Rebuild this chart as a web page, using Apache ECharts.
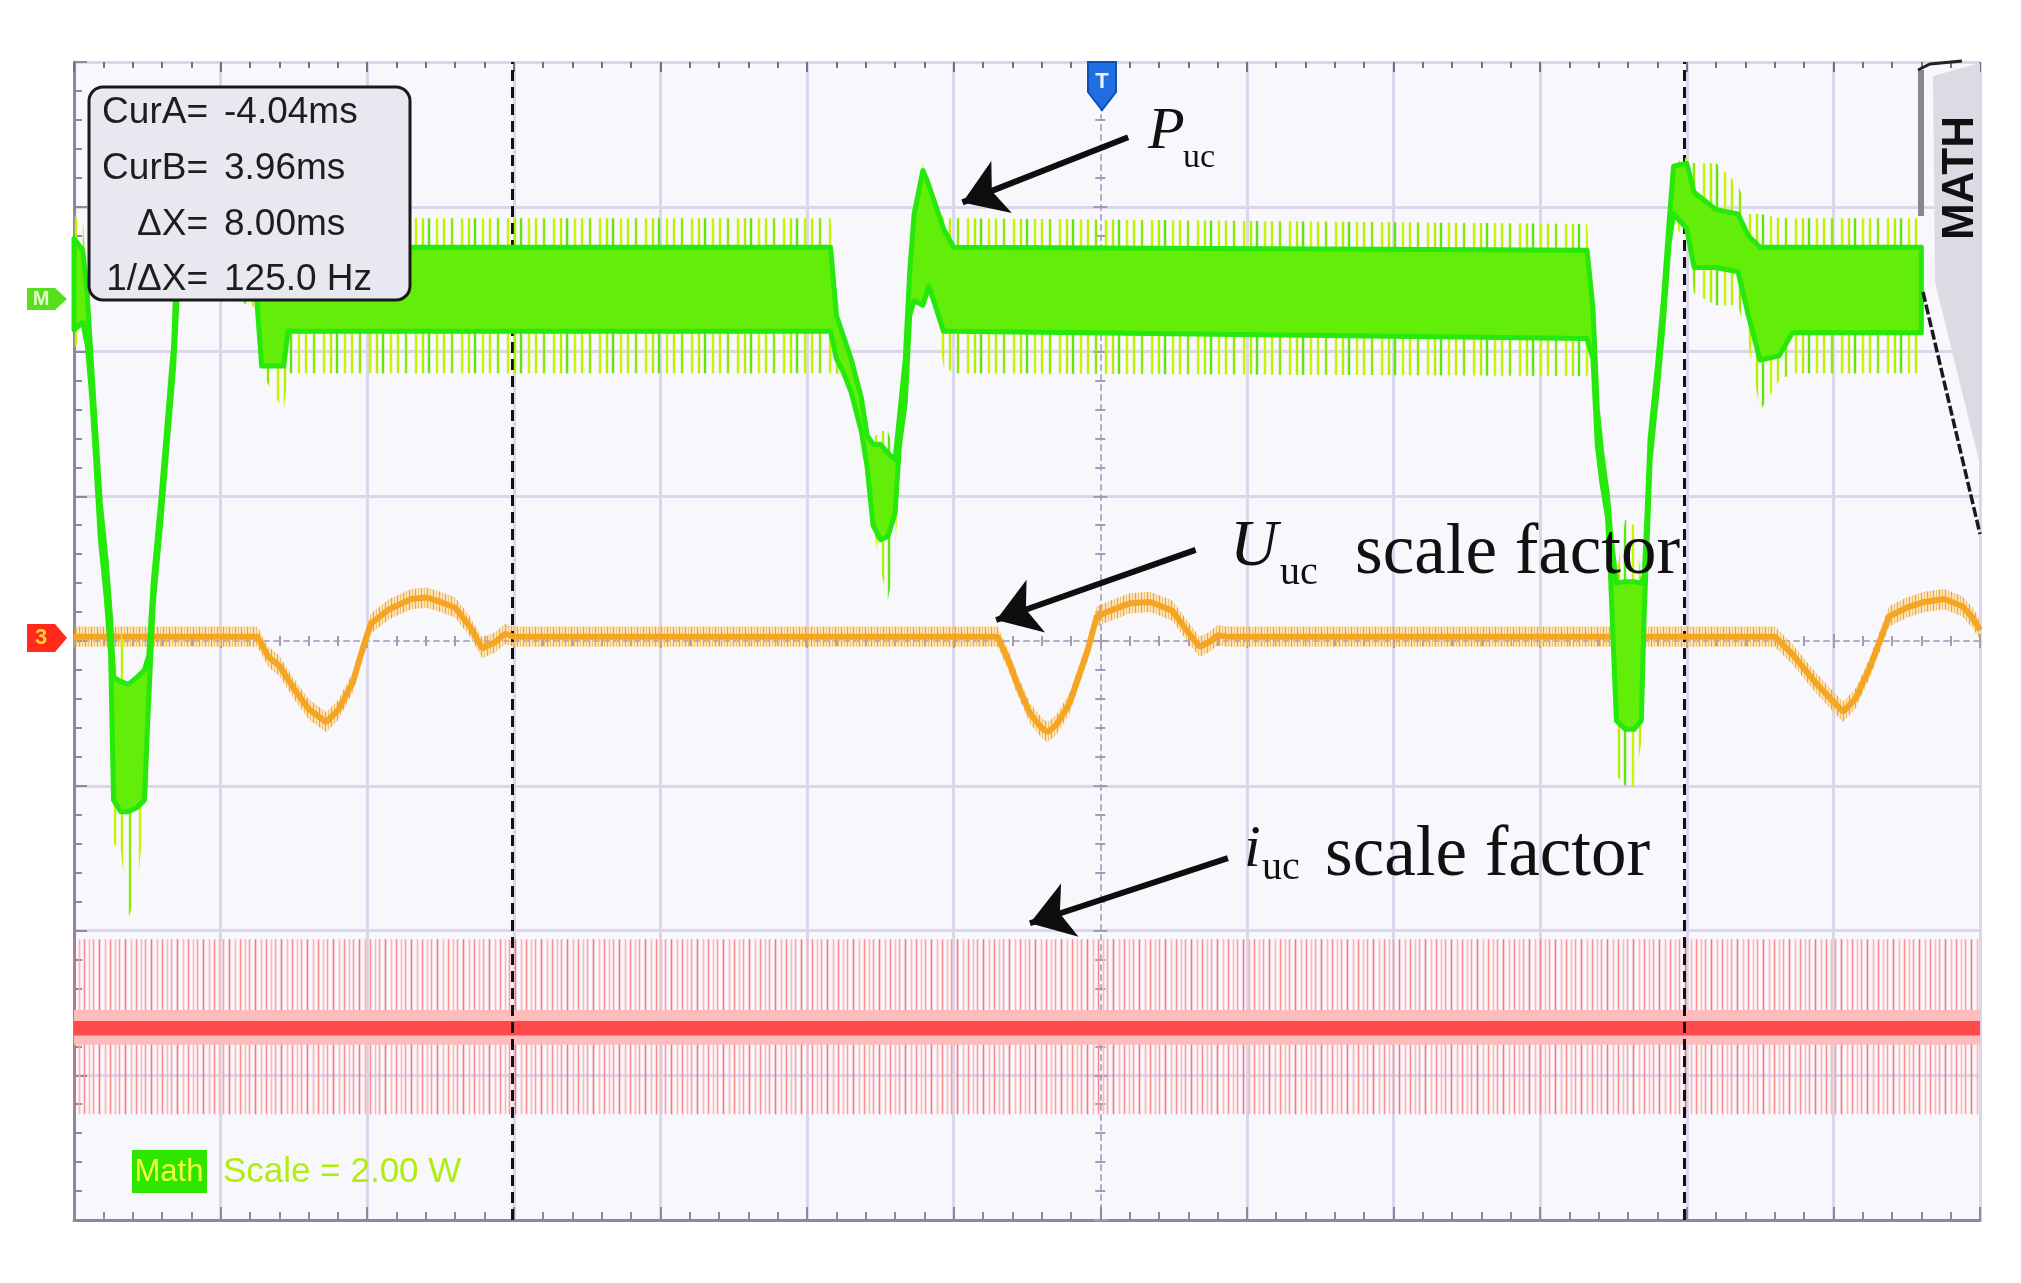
<!DOCTYPE html>
<html>
<head>
<meta charset="utf-8">
<title>Puc / Uuc / iuc waveforms</title>
<script src="https://cdn.jsdelivr.net/npm/echarts@6/dist/echarts.min.js"></script>
<style>
html, body { margin: 0; padding: 0; background: #ffffff; }
#main { width: 2021px; height: 1283px; }
</style>
</head>
<body>
<div id="main"></div>
<script>
// time axis in ms (1 ms/div), vertical axis in screen divisions
var xRange = [-7, 6];
var yRange = [-4, 4];
var cursorTime = [-4.01, 3.98];
var cursorLabel = ['CurA=', 'CurB=', '\u0394X=', '1/\u0394X='];
var cursorValue = ['-4.04ms', '3.96ms', '8.00ms', '125.0 Hz'];

// P_uc (Math trace): time, spike bottom, band bottom, band top, spike top
var pTime = [-7.00, -6.94, -6.91, -6.88, -6.855, -6.82, -6.78, -6.75, -6.73, -6.68,
  -6.63, -6.57, -6.52, -6.49, -6.46, -6.41, -6.365, -6.32, -6.29, -6.24,
  -6.00, -5.76, -5.72, -5.57, -5.54, -1.84, -1.80, -1.75, -1.70, -1.63,
  -1.59, -1.55, -1.50, -1.45, -1.40, -1.37, -1.33, -1.30, -1.27, -1.21,
  -1.17, -1.12, -1.07, -1.00, 3.32, 3.36, 3.39, 3.42, 3.46, 3.48,
  3.52, 3.58, 3.64, 3.69, 3.71, 3.73, 3.75, 3.80, 3.84, 3.88,
  3.91, 4.00, 4.05, 4.20, 4.35, 4.42, 4.50, 4.63, 4.72, 5.60];
var pSpikeLow = [2.02, 2.10, 2.00, 1.65, 1.30, 0.70, 0.30, -0.10, -1.40, -1.45,
  -1.92, -1.72, -1.20, -0.95, 0.25, 0.80, 1.35, 1.90, 2.45, 2.55,
  2.40, 2.30, 1.85, 1.59, 1.85, 1.85, 1.85, 1.82, 1.70, 1.45,
  1.05, 0.80, 0.50, 0.28, 0.55, 1.30, 1.60, 2.20, 2.30, 2.30,
  2.40, 2.25, 1.90, 1.85, 1.83, 1.90, 1.35, 1.10, 0.85, 0.40,
  -0.93, -1.00, -1.01, -0.70, 0.20, 0.70, 1.25, 1.75, 2.20, 2.70,
  2.85, 2.80, 2.40, 2.32, 2.32, 2.05, 1.59, 1.80, 1.85, 1.85];
var pLow = [2.15, 2.20, 2.05, 1.70, 1.30, 0.70, 0.30, -0.10, -1.10, -1.18,
  -1.18, -1.15, -1.10, -0.40, 0.25, 0.80, 1.35, 1.90, 2.50, 2.70,
  2.55, 2.45, 1.90, 1.90, 2.14, 2.14, 1.95, 1.85, 1.72, 1.45,
  1.20, 0.80, 0.70, 0.72, 0.88, 1.35, 1.65, 2.25, 2.35, 2.32,
  2.45, 2.30, 2.14, 2.14, 2.09, 1.95, 1.35, 1.10, 0.85, 0.45,
  -0.55, -0.61, -0.61, -0.55, 0.20, 0.70, 1.25, 1.75, 2.20, 2.75,
  2.95, 2.85, 2.58, 2.58, 2.55, 2.25, 1.94, 1.97, 2.13, 2.13];
var pHigh = [2.78, 2.70, 2.40, 1.90, 1.50, 0.95, 0.55, 0.15, -0.25, -0.28,
  -0.30, -0.25, -0.20, -0.10, 0.40, 0.95, 1.50, 2.05, 2.90, 3.25,
  3.05, 3.00, 2.72, 2.72, 2.72, 2.72, 2.25, 2.10, 1.95, 1.68,
  1.42, 1.36, 1.36, 1.30, 1.25, 1.55, 1.95, 2.55, 2.95, 3.25,
  3.15, 3.00, 2.85, 2.72, 2.70, 2.30, 1.60, 1.30, 1.00, 0.75,
  0.40, 0.41, 0.41, 0.40, 0.45, 0.90, 1.40, 1.90, 2.35, 2.90,
  3.28, 3.30, 3.10, 2.98, 2.95, 2.80, 2.72, 2.72, 2.72, 2.72];
var pSpikeHigh = [2.94, 2.90, 2.45, 1.95, 1.50, 0.95, 0.55, 0.15, -0.25, 0.10,
  -0.30, -0.25, -0.20, -0.10, 0.40, 0.95, 1.50, 2.05, 3.00, 3.35,
  3.25, 3.15, 2.92, 2.92, 2.92, 2.92, 2.40, 2.12, 1.95, 1.68,
  1.42, 1.40, 1.45, 1.45, 1.30, 1.55, 2.00, 2.60, 3.00, 3.30,
  3.20, 3.02, 2.92, 2.92, 2.88, 2.35, 1.60, 1.30, 1.00, 0.75,
  0.45, 0.84, 0.80, 0.45, 0.45, 0.90, 1.40, 1.90, 2.35, 2.90,
  3.30, 3.34, 3.30, 3.30, 3.15, 2.95, 2.95, 2.92, 2.92, 2.92];

// U_uc scale factor
var uTime = [-7.00, -5.75, -5.675, -5.60, -5.50, -5.40, -5.28, -5.20, -5.10, -5.03,
  -4.975, -4.85, -4.70, -4.595, -4.50, -4.40, -4.30, -4.215, -4.13, -4.06,
  -4.00, -0.70, -0.62, -0.57, -0.48, -0.40, -0.36, -0.30, -0.21, -0.085,
  -0.024, 0.07, 0.20, 0.34, 0.49, 0.585, 0.676, 0.74, 0.80, 0.86,
  4.60, 4.72, 4.88, 5.066, 5.15, 5.25, 5.38, 5.50, 5.62, 5.756,
  5.88, 5.95, 6.00];
var uValue = [0.03, 0.03, -0.11, -0.17, -0.33, -0.47, -0.56, -0.48, -0.29, -0.05,
  0.12, 0.22, 0.29, 0.30, 0.27, 0.23, 0.10, -0.05, -0.01, 0.05,
  0.03, 0.03, -0.15, -0.29, -0.50, -0.60, -0.63, -0.58, -0.43, -0.06,
  0.17, 0.21, 0.26, 0.27, 0.21, 0.08, -0.04, -0.01, 0.04, 0.03,
  0.03, -0.09, -0.29, -0.49, -0.40, -0.18, 0.17, 0.23, 0.27, 0.29,
  0.24, 0.16, 0.075];

// i_uc scale factor
var iTime = [-7, 6];
var iSpikeLow = [-3.27, -3.27];
var iLow = [-2.79, -2.79];
var iCoreLow = [-2.725, -2.725];
var iCoreHigh = [-2.625, -2.625];
var iHigh = [-2.55, -2.55];
var iSpikeHigh = [-2.06, -2.06];

// annotation arrows (tail -> head), in axis units
var arrowFrom = [[0.19, 3.48], [0.65, 0.63], [0.87, -1.50]];
var arrowTo = [[-0.94, 3.03], [-0.71, 0.145], [-0.48, -1.95]];

var chart = echarts.init(document.getElementById('main'));

// vertical stripe fill, used for the noise spikes
function stripes(w, lines, lw, bg) {
  var c = document.createElement('canvas');
  c.width = w; c.height = 8;
  var g = c.getContext('2d');
  if (bg) { g.fillStyle = bg; g.fillRect(0, 0, w, 8); }
  g.lineWidth = lw;
  lines.forEach(function (l) {
    g.strokeStyle = l[1];
    g.beginPath(); g.moveTo(l[0], 0); g.lineTo(l[0], 8); g.stroke();
  });
  return { type: 'pattern', image: c, repeat: 'repeat' };
}

function envelope(name, time, low, high, style, z) {
  return {
    type: 'custom', name: name, z: z, silent: true,
    xAxisIndex: 0, yAxisIndex: 0,
    data: time.map(function (t, i) { return [t, low[i], high[i]]; }),
    encode: { x: 0, y: [1, 2] },
    renderItem: function (params, api) {
      if (params.dataIndex !== 0) return null;
      var pts = [];
      for (var i = 0; i < time.length; i++) pts.push(api.coord([time[i], high[i]]));
      for (var j = time.length - 1; j >= 0; j--) pts.push(api.coord([time[j], low[j]]));
      return { type: 'polygon', shape: { points: pts }, style: style };
    }
  };
}

var lavender = '#dad6ec';
function gridColors(range) {
  var a = [];
  for (var v = range[0]; v <= range[1]; v++) a.push(v === 0 ? 'rgba(0,0,0,0)' : lavender);
  return a;
}

var edge = '#8f889c';
var mid = '#a29cb4';

function centerX(inside) {
  return {
    type: 'value', min: xRange[0], max: xRange[1], interval: 1, position: 'bottom',
    axisLine: { show: inside, onZero: true, onZeroAxisIndex: 0, lineStyle: { color: '#b3adc6', width: 2, type: [5, 5] } },
    axisTick: { show: true, inside: inside, length: 7, lineStyle: { color: mid, width: 2 } },
    minorTick: { show: true, splitNumber: 5, length: 5, lineStyle: { color: mid, width: 2 } },
    axisLabel: { show: false }, splitLine: { show: false }
  };
}
function centerY(inside) {
  return {
    type: 'value', min: yRange[0], max: yRange[1], interval: 1, position: 'left',
    axisLine: { show: inside, onZero: true, onZeroAxisIndex: 0, lineStyle: { color: '#b3adc6', width: 2, type: [5, 5] } },
    axisTick: { show: true, inside: inside, length: 7, lineStyle: { color: mid, width: 2 } },
    minorTick: { show: true, splitNumber: 5, length: 5, lineStyle: { color: mid, width: 2 } },
    axisLabel: { show: false }, splitLine: { show: false }
  };
}

var uBand = 0.07;
var uLow = uValue.map(function (v) { return v - uBand; });
var uHigh = uValue.map(function (v) { return v + uBand; });

var serif = '"Liberation Serif", "Times New Roman", serif';
var sans = '"Liberation Sans", Arial, sans-serif';

var graphics = [
  // cursor readout
  { type: 'rect', z: 30, shape: { x: 89, y: 87, width: 321, height: 213, r: 14 },
    style: { fill: '#e9e8f1', stroke: '#1a1a1a', lineWidth: 3 } },
  // math label
  { type: 'rect', z: 30, shape: { x: 132, y: 1150, width: 75, height: 43 }, style: { fill: '#2fe600' } },
  { type: 'text', z: 31, style: { text: 'Math', x: 169, y: 1172, align: 'center', verticalAlign: 'middle',
    font: '31px ' + sans, fill: '#f0ff3c' } },
  { type: 'text', z: 31, style: { text: 'Scale = 2.00 W', x: 223, y: 1172, verticalAlign: 'middle',
    font: '35px ' + sans, fill: '#b0ee10' } },
  // channel markers
  { type: 'polygon', z: 30, shape: { points: [[27, 288], [55, 288], [67, 299], [55, 310], [27, 310]] },
    style: { fill: '#55e01b' } },
  { type: 'text', z: 31, style: { text: 'M', x: 41, y: 299, align: 'center', verticalAlign: 'middle',
    font: 'bold 20px ' + sans, fill: '#e4ffcc' } },
  { type: 'polygon', z: 30, shape: { points: [[27, 624], [55, 624], [67, 638], [55, 652], [27, 652]] },
    style: { fill: '#ff2a1a' } },
  { type: 'text', z: 31, style: { text: '3', x: 41, y: 638, align: 'center', verticalAlign: 'middle',
    font: 'bold 22px ' + sans, fill: '#ffd23c' } },
  // trigger marker
  { type: 'polygon', z: 30, shape: { points: [[1088, 62], [1116, 62], [1116, 92], [1102, 110], [1088, 92]] },
    style: { fill: '#1f6fe0', stroke: '#0d4fb5', lineWidth: 2 } },
  { type: 'text', z: 31, style: { text: 'T', x: 1102, y: 82, align: 'center', verticalAlign: 'middle',
    font: 'bold 22px ' + sans, fill: '#e8f2ff' } },
  // MATH tab
  { type: 'polygon', z: 30, shape: { points: [[1933, 76], [1980, 63], [1980, 465], [1935, 282]] },
    style: { fill: '#dcdbe4' } },
  { type: 'rect', z: 30, shape: { x: 1918, y: 70, width: 6, height: 146 }, style: { fill: '#8a8590' } },
  { type: 'polyline', z: 31, shape: { points: [[1918, 70], [1930, 64], [1962, 61]] },
    style: { stroke: '#222', lineWidth: 3, fill: null } },
  { type: 'line', z: 31, shape: { x1: 1923, y1: 292, x2: 1980, y2: 534 },
    style: { stroke: '#1a1a1a', lineWidth: 3.5, lineDash: [10, 3] } },
  { type: 'text', z: 31, x: 1961, y: 178, rotation: Math.PI / 2,
    style: { text: 'MATH', x: 0, y: 0, align: 'center', verticalAlign: 'middle',
      font: 'bold 44px ' + sans, fill: '#111' } },
  // annotation texts
  { type: 'text', z: 31, style: { text: 'P', x: 1148, y: 132, verticalAlign: 'middle', font: 'italic 60px ' + serif, fill: '#111' } },
  { type: 'text', z: 31, style: { text: 'uc', x: 1183, y: 158, verticalAlign: 'middle', font: '34px ' + serif, fill: '#111' } },
  { type: 'text', z: 31, style: { text: 'U', x: 1230, y: 548, verticalAlign: 'middle', font: 'italic 66px ' + serif, fill: '#111' } },
  { type: 'text', z: 31, style: { text: 'uc', x: 1280, y: 573, verticalAlign: 'middle', font: '40px ' + serif, fill: '#111' } },
  { type: 'text', z: 31, style: { text: 'scale factor', x: 1355, y: 554, verticalAlign: 'middle', font: '71px ' + serif, fill: '#111' } },
  { type: 'text', z: 31, style: { text: 'i', x: 1244, y: 850, verticalAlign: 'middle', font: 'italic 60px ' + serif, fill: '#111' } },
  { type: 'text', z: 31, style: { text: 'uc', x: 1262, y: 868, verticalAlign: 'middle', font: '40px ' + serif, fill: '#111' } },
  { type: 'text', z: 31, style: { text: 'scale factor', x: 1325, y: 856, verticalAlign: 'middle', font: '71px ' + serif, fill: '#111' } }
];
cursorLabel.forEach(function (s, k) {
  graphics.push({ type: 'text', z: 31, style: { text: s, x: 208, y: 113 + 55.7 * k, align: 'right',
    verticalAlign: 'middle', font: '37px ' + sans, fill: '#1d1d1d' } });
  graphics.push({ type: 'text', z: 31, style: { text: cursorValue[k], x: 224, y: 113 + 55.7 * k,
    verticalAlign: 'middle', font: '37px ' + sans, fill: '#1d1d1d' } });
});

var option = {
  animation: false,
  backgroundColor: '#ffffff',
  grid: { left: 74, top: 62, width: 1906, height: 1158, show: true, backgroundColor: '#f8f7fc',
    borderWidth: 0, containLabel: false },
  xAxis: [
    { type: 'value', min: xRange[0], max: xRange[1], interval: 1, position: 'bottom',
      axisLine: { show: true, onZero: false, lineStyle: { color: edge, width: 3 } },
      axisTick: { show: true, inside: true, length: 13, lineStyle: { color: edge, width: 2 } },
      minorTick: { show: true, splitNumber: 5, length: 8, lineStyle: { color: edge, width: 2 } },
      axisLabel: { show: false },
      splitLine: { show: true, lineStyle: { color: gridColors(xRange), width: 3 } } },
    { type: 'value', min: xRange[0], max: xRange[1], interval: 1, position: 'top',
      axisLine: { show: false, onZero: false },
      axisTick: { show: true, inside: true, length: 10, lineStyle: { color: '#77717f', width: 2 } },
      minorTick: { show: true, splitNumber: 5, length: 6, lineStyle: { color: '#77717f', width: 2 } },
      axisLabel: { show: false }, splitLine: { show: false } },
    centerX(true),
    centerX(false)
  ],
  yAxis: [
    { type: 'value', min: yRange[0], max: yRange[1], interval: 1, position: 'left',
      axisLine: { show: true, onZero: false, lineStyle: { color: edge, width: 3 } },
      axisTick: { show: true, inside: true, length: 13, lineStyle: { color: edge, width: 2 } },
      minorTick: { show: true, splitNumber: 5, length: 8, lineStyle: { color: edge, width: 2 } },
      axisLabel: { show: false },
      splitLine: { show: true, lineStyle: { color: gridColors(yRange), width: 3 } } },
    centerY(true),
    centerY(false)
  ],
  series: [
    envelope('iuc spikes', iTime, iSpikeLow, iSpikeHigh,
      { fill: stripes(26, [[1.5, '#ffb2b2'], [6.5, '#ff8c8c'], [11.5, '#ffb8b8'], [15.5, '#ff9c9c'], [21.5, '#ff7474']], 1.6) }, 3),
    envelope('iuc band', iTime, iLow, iHigh, { fill: '#ffbcbc' }, 3),
    envelope('iuc core', iTime, iCoreLow, iCoreHigh, { fill: '#ff4a4a' }, 3),
    envelope('Uuc ripple', uTime, uLow, uHigh,
      { fill: stripes(6, [[1.5, '#f6a421'], [4.5, '#f9c060']], 1.6) }, 4),
    { type: 'line', name: 'Uuc', z: 5, silent: true, symbol: 'none',
      data: uTime.map(function (t, i) { return [t, uValue[i]]; }),
      lineStyle: { color: '#f5a524', width: 6 } },
    envelope('Puc spikes', pTime, pSpikeLow, pSpikeHigh,
      { fill: stripes(46, [[2, '#c6f500'], [9, '#b4ee00'], [15, '#5ce80a'], [23, '#c8f500'], [30, '#bff200'], [38, '#8ee800']], 2.4) }, 6),
    envelope('Puc', pTime, pLow, pHigh, { fill: '#62ee08', stroke: '#26e80a', lineWidth: 5, lineJoin: 'round' }, 7),
    { type: 'line', name: 'cursors', z: 8, data: [], silent: true,
      markLine: { silent: true, symbol: 'none', animation: false, label: { show: false },
        lineStyle: { color: '#121212', width: 3, type: [11, 6] },
        data: cursorTime.map(function (t) { return { xAxis: t }; }) } },
    { type: 'line', name: 'arrows', z: 9, data: [], silent: true,
      markLine: { silent: true, symbol: ['none', 'arrow'], symbolSize: 42, animation: false,
        label: { show: false }, lineStyle: { color: '#0e0e0e', width: 6, type: 'solid' },
        data: arrowFrom.map(function (p, k) { return [{ coord: p }, { coord: arrowTo[k] }]; }) } }
  ],
  graphic: graphics
};

chart.setOption(option);
window.onresize = chart.resize;
</script>
</body>
</html>
